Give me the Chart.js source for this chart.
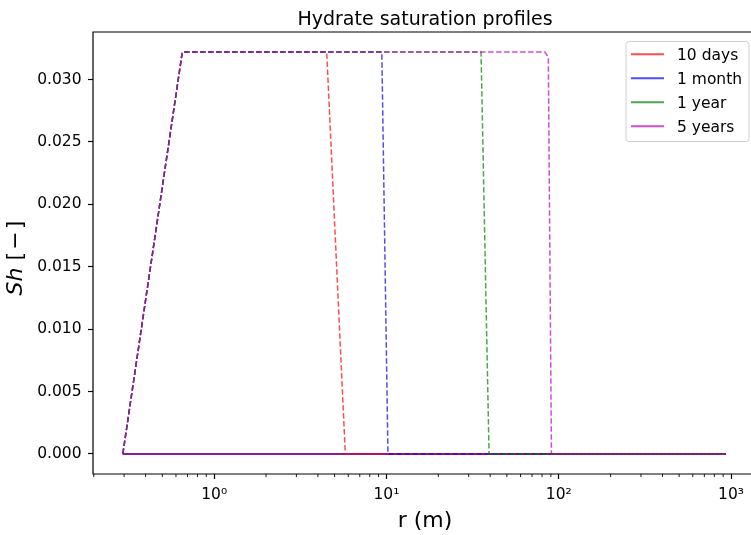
<!DOCTYPE html>
<html>
<head>
<meta charset="utf-8">
<script src="https://cdn.jsdelivr.net/npm/chart.js@4.4.0/dist/chart.umd.min.js"></script>
<style>
  html, body { margin: 0; padding: 0; background: #fff; }
</style>
</head>
<body>
<canvas id="graficoSh" width="751" height="535"></canvas>
<script>
const tituloGrafico = 'Hydrate saturation profiles';
const seriesLabels = ['10 days', '1 month', '1 year', '5 years'];
const seriesColors = ['rgba(255,0,0,0.7)', 'rgba(0,0,255,0.7)', 'rgba(0,128,0,0.7)', 'rgba(191,0,191,0.7)'];

// dashed profiles: radius (m) and Sh
const rDias = [0.295, 0.653, 4.5, 5.77, 935];
const shDias = [0, 0.0322, 0.0322, 0, 0];
const rMes = [0.295, 0.653, 9.4, 10.2, 935];
const shMes = [0, 0.0322, 0.0322, 0, 0];
const rAnio = [0.295, 0.653, 35.4, 39.4, 935];
const shAnio = [0, 0.0322, 0.0322, 0, 0];
const rCinco = [0.295, 0.653, 83, 87, 90.7, 935];
const shCinco = [0, 0.0322, 0.0322, 0.0318, 0, 0];

// solid lines (legend entries), all at zero
const rBase = [0.295, 935];
const shBase = [0, 0];

const xMajorTicks = [1, 10, 100, 1000];
const xTickLabels = ['10⁰', '10¹', '10²', '10³'];
const xMinorTicks = [0.2, 0.3, 0.4, 0.5, 0.6, 0.7, 0.8, 0.9,
                     2, 3, 4, 5, 6, 7, 8, 9,
                     20, 30, 40, 50, 60, 70, 80, 90,
                     200, 300, 400, 500, 600, 700, 800, 900];
const yTicks = [0, 0.005, 0.010, 0.015, 0.020, 0.025, 0.030];

const FUENTE = '"DejaVu Sans", sans-serif';
Chart.defaults.font.family = FUENTE;

function trazo(xs, ys, i, punteado) {
    return {
        label: seriesLabels[i],
        data: xs.map((x, k) => ({ x: x, y: ys[k] })),
        borderColor: seriesColors[i],
        borderWidth: punteado ? 1.5 : 2,
        borderDash: punteado ? [5.5, 2.5] : [],
        pointRadius: 0,
        showLine: true,
        fill: false,
        tension: 0
    };
}

// first dataset is drawn on top: later series over earlier ones, dashed over solid
const datasets = [
    trazo(rCinco, shCinco, 3, true),
    trazo(rAnio, shAnio, 2, true),
    trazo(rMes, shMes, 1, true),
    trazo(rDias, shDias, 0, true),
    trazo(rBase, shBase, 3, false),
    trazo(rBase, shBase, 2, false),
    trazo(rBase, shBase, 1, false),
    trazo(rBase, shBase, 0, false)
];

const decorado = {
    id: 'decorado',
    afterDraw(chart) {
        const { ctx, chartArea: a, scales } = chart;
        const centroX = 425;
        ctx.save();

        // frame (right spine is outside the canvas)
        ctx.strokeStyle = '#000';
        ctx.lineWidth = 1.2;
        ctx.beginPath();
        ctx.moveTo(a.right + 5, a.top);
        ctx.lineTo(a.left, a.top);
        ctx.lineTo(a.left, a.bottom);
        ctx.lineTo(a.right + 5, a.bottom);
        ctx.stroke();

        // minor ticks on the log axis
        ctx.lineWidth = 0.9;
        xMinorTicks.forEach(v => {
            const px = scales.x.getPixelForValue(v);
            ctx.beginPath();
            ctx.moveTo(px, a.bottom);
            ctx.lineTo(px, a.bottom + 3);
            ctx.stroke();
        });

        // title and axis labels
        ctx.fillStyle = '#000';
        ctx.textAlign = 'center';
        ctx.textBaseline = 'alphabetic';
        ctx.font = '19px ' + FUENTE;
        ctx.fillText(tituloGrafico, centroX, 25);
        ctx.font = '22px ' + FUENTE;
        ctx.fillText('r (m)', centroX, 527);

        ctx.save();
        ctx.translate(22, 258);
        ctx.rotate(-Math.PI / 2);
        ctx.textAlign = 'left';
        const parteA = 'Sh', parteB = ' [\u200A\u2212\u200A]';
        ctx.font = 'italic 22px ' + FUENTE;
        const wA = ctx.measureText(parteA).width;
        ctx.font = '22px ' + FUENTE;
        const wB = ctx.measureText(parteB).width;
        const x0 = -(wA + wB) / 2;
        ctx.font = 'italic 22px ' + FUENTE;
        ctx.fillText(parteA, x0, 0);
        ctx.font = '22px ' + FUENTE;
        ctx.fillText(parteB, x0 + wA, 0);
        ctx.restore();

        // legend box
        const lx = 626, ly = 41.5, lw = 123, lh = 100;
        ctx.beginPath();
        ctx.roundRect(lx, ly, lw, lh, 3);
        ctx.fillStyle = 'rgba(255,255,255,0.8)';
        ctx.fill();
        ctx.strokeStyle = '#d0d0d0';
        ctx.lineWidth = 1;
        ctx.stroke();
        ctx.font = '15.5px ' + FUENTE;
        ctx.textAlign = 'left';
        seriesLabels.forEach((lab, i) => {
            const y = 54.3 + 24 * i;
            ctx.strokeStyle = seriesColors[i];
            ctx.lineWidth = 2;
            ctx.beginPath();
            ctx.moveTo(631, y);
            ctx.lineTo(664, y);
            ctx.stroke();
            ctx.fillStyle = '#000';
            ctx.fillText(lab, 677, y + 5.5);
        });
        ctx.restore();
    }
};

new Chart(document.getElementById('graficoSh').getContext('2d'), {
    type: 'scatter',
    data: { datasets: datasets },
    options: {
        responsive: false,
        animation: false,
        layout: { padding: { top: 32, left: 0, right: 0, bottom: 0 } },
        plugins: {
            legend: { display: false },
            tooltip: { enabled: false },
            title: { display: false }
        },
        scales: {
            x: {
                type: 'logarithmic',
                min: 0.198,
                max: 1265,
                afterBuildTicks: s => { s.ticks = xMajorTicks.map(v => ({ value: v, major: true })); },
                afterFit: s => { s.height = 61; },
                grid: { drawOnChartArea: false, tickLength: 5, tickWidth: 1.2, tickColor: '#000' },
                border: { display: false },
                ticks: {
                    autoSkip: false,
                    maxRotation: 0,
                    padding: 7,
                    color: '#000',
                    font: { size: 15.5 },
                    callback: v => xTickLabels[xMajorTicks.indexOf(v)]
                }
            },
            y: {
                min: -0.00161,
                max: 0.03381,
                afterBuildTicks: s => { s.ticks = yTicks.map(v => ({ value: v })); },
                afterFit: s => { s.width = 93; },
                grid: { drawOnChartArea: false, tickLength: 5, tickWidth: 1.2, tickColor: '#000' },
                border: { display: false },
                ticks: {
                    padding: 6.5,
                    color: '#000',
                    font: { size: 15.5 },
                    callback: v => v.toFixed(3)
                }
            }
        }
    },
    plugins: [decorado]
});
</script>
</body>
</html>
